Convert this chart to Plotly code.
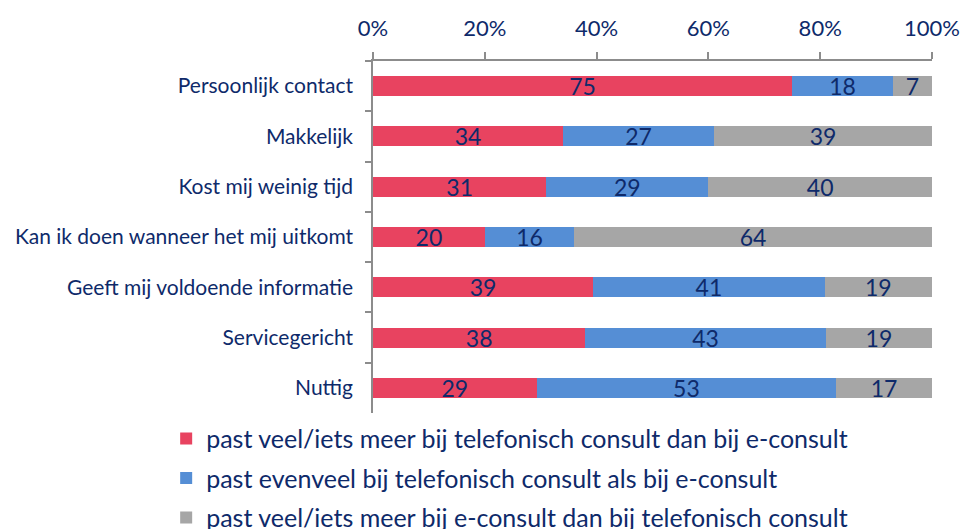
import plotly.graph_objects as go

categories = ["Persoonlijk contact", "Makkelijk", "Kost mij weinig tijd",
              "Kan ik doen wanneer het mij uitkomt", "Geeft mij voldoende informatie",
              "Servicegericht", "Nuttig"]
series_names = ["past veel/iets meer bij telefonisch consult dan bij e-consult",
                "past evenveel bij telefonisch consult als bij e-consult",
                "past veel/iets meer bij e-consult dan bij telefonisch consult"]
tel_meer = [75, 34, 31, 20, 39, 38, 29]
evenveel = [18, 27, 29, 16, 41, 43, 53]
e_meer = [7, 39, 40, 64, 19, 19, 17]
tick_vals = [0, 20, 40, 60, 80, 100]
tick_text = ["0%", "20%", "40%", "60%", "80%", "100%"]

colors = ["#E84360", "#558ED5", "#A6A6A6"]
TXT = "#0E2A6A"
FONT = "Lato, 'Noto Sans', sans-serif"

fig = go.Figure()
for i, (name, vals, col) in enumerate(zip(series_names, [tel_meer, evenveel, e_meer], colors)):
    fig.add_trace(go.Bar(
        y=categories, x=vals, name=name, orientation="h",
        marker=dict(color=col, line=dict(width=0)),
        text=[str(v) for v in vals], textposition="inside",
        insidetextanchor="middle", textangle=0, constraintext="none",
        textfont=dict(size=23, color=TXT, family=FONT),
        legendgroup=f"g{i}",
    ))

fig.update_layout(
    width=965, height=529,
    barmode="stack", barnorm="percent", bargap=0.6,
    plot_bgcolor="white", paper_bgcolor="white",
    font=dict(family=FONT, color=TXT),
    margin=dict(l=373, r=33, t=61, b=116, autoexpand=False),
    xaxis=dict(side="top", range=[0, 100], tickvals=tick_vals, ticktext=tick_text,
               tickangle=0, automargin=False, ticklabelstandoff=7,
               showgrid=False, zeroline=False, showline=True, linecolor="#8C8C8C",
               linewidth=1.5, ticks="outside", ticklen=7, tickcolor="#8C8C8C",
               tickwidth=1.5, tickfont=dict(size=22, color=TXT, family=FONT)),
    yaxis=dict(categoryorder="array", categoryarray=categories, autorange="reversed",
               automargin=False, ticklabelstandoff=14,
               showgrid=False, showline=True, linecolor="#8C8C8C", linewidth=1.5,
               ticks="outside", tickson="boundaries", ticklen=6, tickcolor="#8C8C8C",
               tickwidth=1.5, tickfont=dict(size=21, color=TXT, family=FONT)),
    legend=dict(orientation="v", x=-0.37, y=-0.008,
                xanchor="left", yanchor="top", traceorder="grouped", tracegroupgap=4,
                font=dict(size=25, color=TXT, family=FONT), bgcolor="rgba(0,0,0,0)"),
    showlegend=True,
)

fig.write_html("out.html")
